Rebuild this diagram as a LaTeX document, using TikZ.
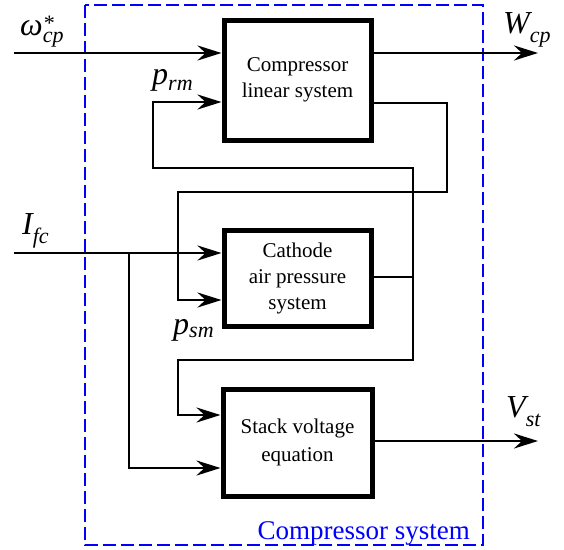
\documentclass[tikz,border=0pt]{standalone}
\usepackage{fontspec}
\setmainfont{Liberation Serif}[Ligatures=TeX]
\newfontfamily\tms{Liberation Serif}
\usetikzlibrary{arrows.meta}
\newcommand\subsz{\fontsize{22}{22}\selectfont}
\begin{document}
\begin{tikzpicture}[x=1pt,y=-1pt,
  blk/.style={draw, line width=5pt, minimum width=147pt, align=center, inner sep=0pt},
  conn/.style={line width=2.8pt},
  arr/.style={conn, -{Stealth[length=24pt,width=15pt,inset=8pt]}},
  sym/.style={inner sep=0pt, anchor=base west, font=\tms\fontsize{32}{32}\selectfont\itshape},
  frame/.style={draw=blue, line width=2.7pt, dash pattern=on 13pt off 5pt}
  ]
\useasboundingbox (0,0) rectangle (564,549);
\draw[frame] (85,5) rectangle (483,545);
\node[anchor=base east, text=blue, font=\tms\fontsize{27}{27}\selectfont, inner sep=0pt] (cs) at (470,539) {Compressor system};

\node[blk, minimum height=120pt, font=\tms\fontsize{21}{26}\selectfont] (b1) at (297.5,80) {Compressor\\linear system};
\node[blk, minimum height=96pt, font=\tms\fontsize{21}{26}\selectfont] (b2) at (297.5,278) {Cathode\\air pressure\\system};
\node[blk, minimum width=149pt, minimum height=107pt, font=\tms\fontsize{21}{28}\selectfont] (b3) at (297.5,442.5) {Stack voltage\\equation};

\coordinate (win) at (14,53);
\coordinate (wout) at (538,53);
\draw[arr] (win) -- (win -| b1.west);
\draw[arr] (wout -| b1.east) -- (wout);

\coordinate (a1) at (447,103);
\coordinate (a2) at (447,192);
\coordinate (a3) at (178,192);
\coordinate (a4) at (178,300);
\draw[arr] (a1 -| b1.east) -- (a1) -- (a2) -- (a3) -- (a4) -- (a4 -| b2.west);

\coordinate (bj) at (413,277);
\coordinate (bt) at (413,168);
\coordinate (bl) at (153,168);
\coordinate (bu) at (153,102);
\coordinate (bb) at (413,360);
\coordinate (bd) at (178,360);
\coordinate (be) at (178,415);
\draw[arr] (bj) -- (bt) -- (bl) -- (bu) -- (bu -| b1.west);
\draw[arr] (bj -| b2.east) -- (bj) -- (bb) -- (bd) -- (be) -- (be -| b3.west);

\coordinate (iin) at (14,253);
\coordinate (ij) at (129,253);
\coordinate (id) at (129,468);
\draw[arr] (iin) -- (iin -| b2.west);
\draw[arr] (ij) -- (id) -- (id -| b3.west);

\coordinate (vout) at (538,441);
\draw[arr] (vout -| b3.east) -- (vout);

\node[sym] (lw) at (20,35) {ω\rlap{\subsz\raisebox{5pt}{*}}\raisebox{-7pt}{\subsz cp}};
\node[sym] (lprm) at (152,84) {p\raisebox{-6pt}{\subsz rm}};
\node[sym] (lwcp) at (503,33) {W\raisebox{-9pt}{\subsz cp}};
\node[sym] (lifc) at (22,234) {I\raisebox{-9pt}{\subsz fc}};
\node[sym] (lpsm) at (173,334) {p\raisebox{-3pt}{\subsz sm}};
\node[sym] (lvst) at (506,417) {V\raisebox{-9pt}{\subsz st}};
\end{tikzpicture}
\end{document}
